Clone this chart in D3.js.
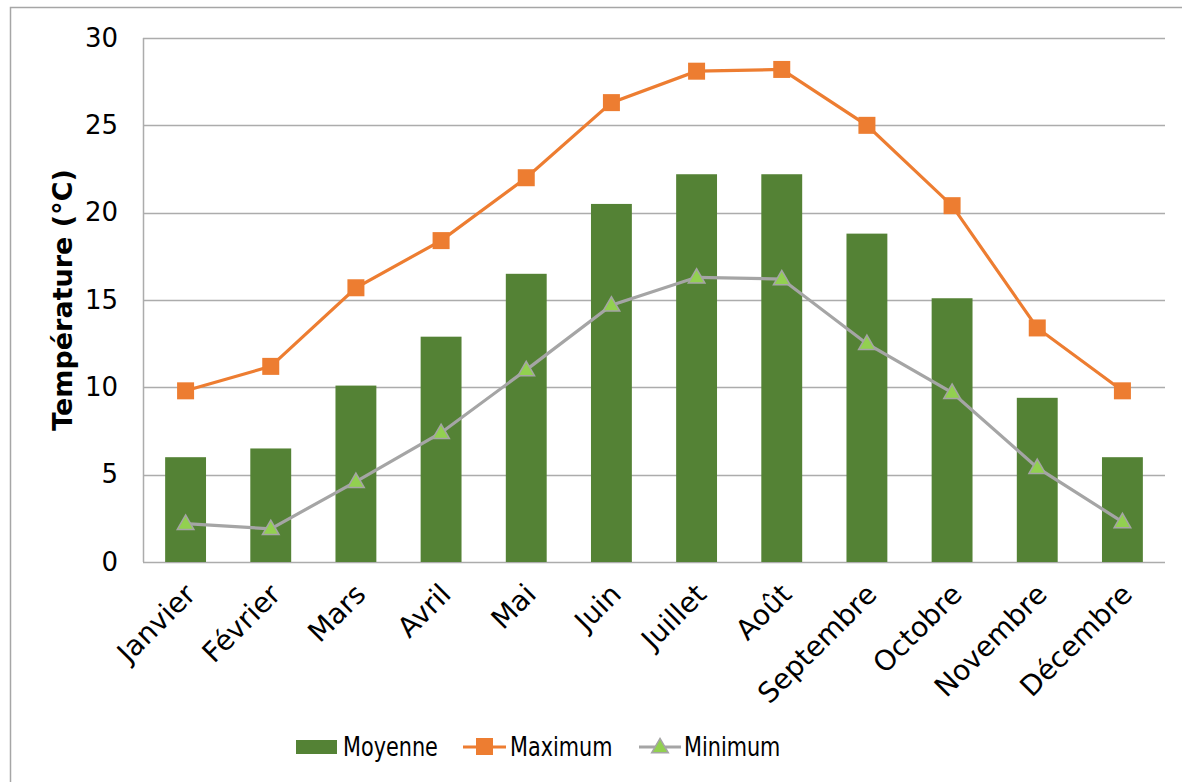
<!DOCTYPE html>
<html>
<head>
<meta charset="utf-8">
<script src="https://cdn.jsdelivr.net/npm/d3@7"></script>
<style>
  body { margin: 0; background: #fff; }
  text { font-family: "DejaVu Sans", Verdana, sans-serif; }
</style>
</head>
<body>
<svg id="chart"></svg>
<script>
var months = ["Janvier", "Février", "Mars", "Avril", "Mai", "Juin", "Juillet", "Août", "Septembre", "Octobre", "Novembre", "Décembre"];
var moyenne = [6.0, 6.5, 10.1, 12.9, 16.5, 20.5, 22.2, 22.2, 18.8, 15.1, 9.4, 6.0];
var maximum = [9.8, 11.2, 15.7, 18.4, 22.0, 26.3, 28.1, 28.2, 25.0, 20.4, 13.4, 9.8];
var minimum = [2.2, 1.9, 4.6, 7.4, 11.0, 14.7, 16.3, 16.2, 12.5, 9.7, 5.4, 2.3];
var yTicks = [0, 5, 10, 15, 20, 25, 30];

var W = 1182, H = 782;
var margin = {top: 38, right: 17, bottom: 220, left: 143};
var width = W - margin.left - margin.right;
var height = H - margin.top - margin.bottom;

var root = d3.select("#chart").attr("width", W).attr("height", H);

// outer chart border
root.append("rect")
  .attr("x", 10.5).attr("y", 7.5)
  .attr("width", 1200).attr("height", 800)
  .attr("fill", "none")
  .attr("stroke", "#a6a6a6")
  .attr("stroke-width", 1.5);

var svg = root.append("g")
  .attr("transform", "translate(" + margin.left + "," + margin.top + ")");

var x = d3.scaleBand().domain(months).range([0, width]).paddingInner(0.52).paddingOuter(0.26);
var xc = d3.scalePoint().domain(months).range([0, width]).padding(0.5);
var y = d3.scaleLinear().domain([0, 30]).range([height, 0]);

// gridlines
svg.append("g")
  .selectAll("line")
  .data(yTicks)
  .enter().append("line")
  .attr("x1", 0).attr("x2", width)
  .attr("y1", function(d) { return Math.round(y(d)) + 0.5; })
  .attr("y2", function(d) { return Math.round(y(d)) + 0.5; })
  .attr("stroke", "#acacac")
  .attr("stroke-width", 1.5);

svg.append("line")
  .attr("x1", 0.5).attr("x2", 0.5)
  .attr("y1", 0).attr("y2", height)
  .attr("stroke", "#acacac")
  .attr("stroke-width", 1.5);

// y axis labels
var yAxis = svg.append("g")
  .call(d3.axisLeft(y).tickValues(yTicks).tickSize(0).tickPadding(25));
yAxis.select(".domain").remove();
yAxis.selectAll("text")
  .attr("font-size", 26)
  .attr("fill", "#000")
  .style("font-family", "'DejaVu Sans', Verdana, sans-serif");

svg.append("text")
  .attr("transform", "translate(" + (-71) + "," + (height / 2) + ") rotate(-90)")
  .attr("text-anchor", "middle")
  .attr("font-size", 27)
  .attr("font-weight", "bold")
  .text("Température (°C)");

// x axis labels
var xAxis = svg.append("g")
  .attr("transform", "translate(0," + height + ")")
  .call(d3.axisBottom(xc).tickSize(0).tickPadding(0));
xAxis.select(".domain").remove();
xAxis.selectAll("text")
  .attr("font-size", 28)
  .attr("fill", "#000")
  .style("font-family", "'DejaVu Sans', Verdana, sans-serif")
  .attr("text-anchor", "end")
  .attr("dy", null)
  .attr("y", 0)
  .attr("transform", "translate(11,34) rotate(-45)");

// bars
svg.selectAll(".bar")
  .data(moyenne)
  .enter().append("rect")
  .attr("class", "bar")
  .attr("x", function(d, i) { return x(months[i]); })
  .attr("width", x.bandwidth())
  .attr("y", function(d) { return y(d); })
  .attr("height", function(d) { return height - y(d); })
  .attr("fill", "#548235");

var line = d3.line()
  .x(function(d, i) { return xc(months[i]); })
  .y(function(d) { return y(d); });

// maximum
svg.append("path")
  .datum(maximum)
  .attr("d", line)
  .attr("fill", "none")
  .attr("stroke", "#ed7d31")
  .attr("stroke-width", 3.2);
svg.selectAll(".sq")
  .data(maximum)
  .enter().append("rect")
  .attr("class", "sq")
  .attr("x", function(d, i) { return xc(months[i]) - 8.5; })
  .attr("y", function(d) { return y(d) - 8.5; })
  .attr("width", 17).attr("height", 17)
  .attr("fill", "#ed7d31");

// minimum
svg.append("path")
  .datum(minimum)
  .attr("d", line)
  .attr("fill", "none")
  .attr("stroke", "#a5a5a5")
  .attr("stroke-width", 3.2);
var tri = d3.symbol().type(d3.symbolTriangle).size(120);
svg.selectAll(".tri")
  .data(minimum)
  .enter().append("path")
  .attr("class", "tri")
  .attr("d", tri)
  .attr("transform", function(d, i) { return "translate(" + xc(months[i]) + "," + (y(d) + 1) + ")"; })
  .attr("fill", "#92d050")
  .attr("stroke", "#a5a5a5")
  .attr("stroke-width", 1.5);

// legend
var leg = root.append("g");
leg.append("rect")
  .attr("x", 296).attr("y", 740).attr("width", 41).attr("height", 14)
  .attr("fill", "#548235");
leg.append("text").attr("transform", "translate(343,756) scale(0.8,1)").attr("font-size", 26).text("Moyenne");

leg.append("line")
  .attr("x1", 463).attr("x2", 506).attr("y1", 747).attr("y2", 747)
  .attr("stroke", "#ed7d31").attr("stroke-width", 3.2);
leg.append("rect")
  .attr("x", 476).attr("y", 738).attr("width", 17).attr("height", 17)
  .attr("fill", "#ed7d31");
leg.append("text").attr("transform", "translate(510,756) scale(0.8,1)").attr("font-size", 26).text("Maximum");

leg.append("line")
  .attr("x1", 639).attr("x2", 681).attr("y1", 747).attr("y2", 747)
  .attr("stroke", "#a5a5a5").attr("stroke-width", 3.2);
leg.append("path")
  .attr("d", tri)
  .attr("transform", "translate(660,748)")
  .attr("fill", "#92d050")
  .attr("stroke", "#a5a5a5")
  .attr("stroke-width", 1.5);
leg.append("text").attr("transform", "translate(684,756) scale(0.8,1)").attr("font-size", 26).text("Minimum");
</script>
</body>
</html>
